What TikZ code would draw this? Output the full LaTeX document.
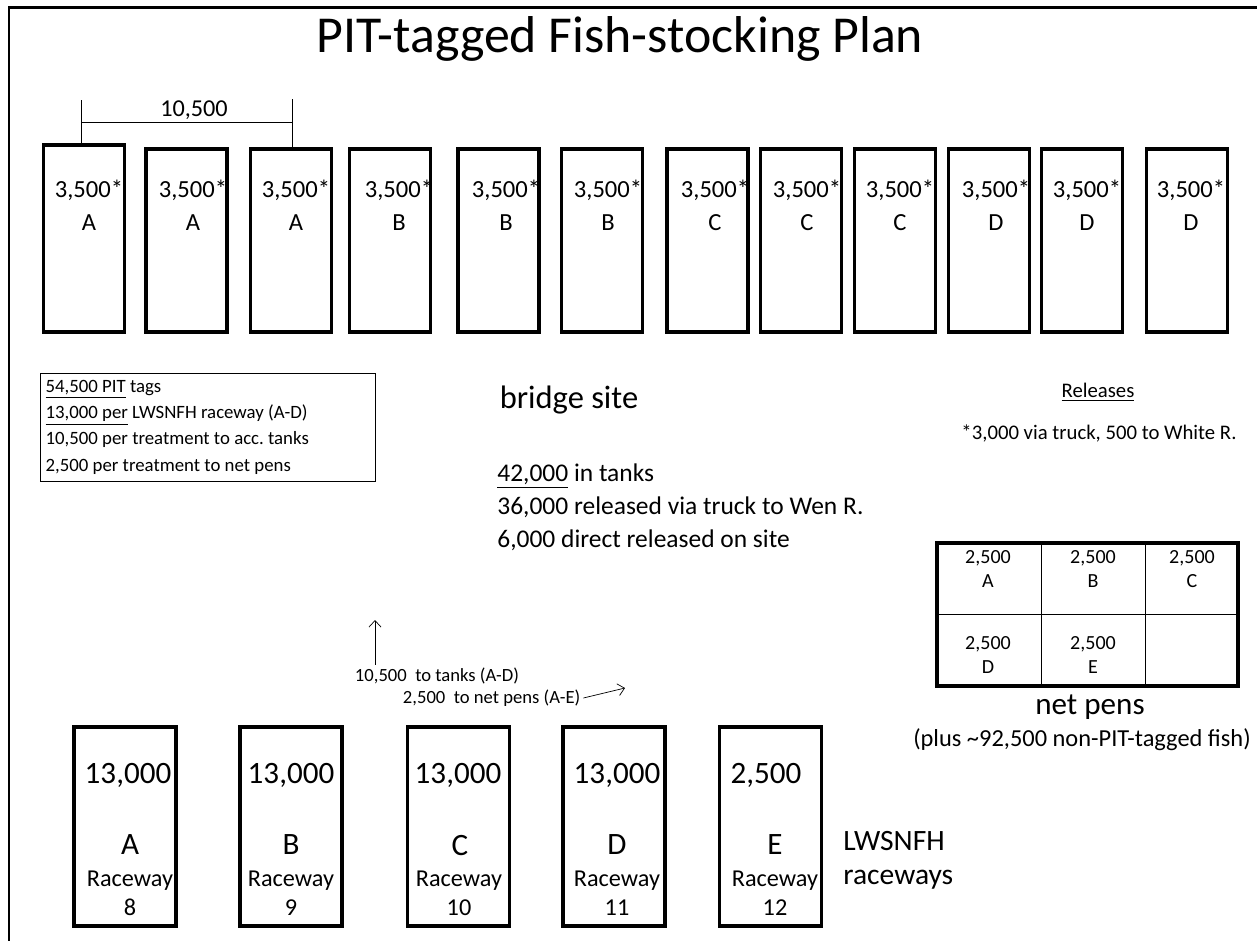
\documentclass[tikz,border=0pt]{standalone}
\usepackage{fontspec}
\setmainfont{Carlito}
\usetikzlibrary{arrows.meta,positioning,calc}
\tikzset{
  tight/.style={execute at begin node={\spaceskip 0pt\relax\xspaceskip 0pt\relax}},
  tank/.style={draw, rectangle, line width=2.2pt, minimum width=1.62cm, minimum height=3.66cm},
  rway/.style={draw, rectangle, line width=2.2pt, minimum width=2.04cm, minimum height=3.98cm},
  pbox/.style={draw, rectangle, line width=2pt, minimum width=6.02cm, minimum height=2.86cm},
  ttxt/.style={align=center, inner sep=0pt, font=\fontsize{14}{18.7}\selectfont},
  rnum/.style={inner sep=0pt, font=\fontsize{17.7}{21}\selectfont},
  rlbl/.style={align=center, inner sep=0pt, font=\fontsize{13.8}{16.4}\selectfont},
  ptxt/.style={align=center, inner sep=0pt, font=\fontsize{11.4}{13.6}\selectfont},
  note/.style={align=left, inner sep=0pt, font=\fontsize{11.8}{14}\selectfont},
  ftxt/.style={inner sep=1.5pt, font=\fontsize{10.6}{12.5}\selectfont},
  lgd/.style={draw, thin, align=left, tight, text width=6.5cm, inner xsep=3pt, inner ysep=4pt, font=\fontsize{10.7}{14.9}\selectfont},
  arr/.style={-{Straight Barb[length=1.3mm, width=2.4mm]}, thin},
}

\begin{document}
\begin{tikzpicture}[x=0.02cm, y=-0.02cm]
\useasboundingbox (0,0) rectangle (1257,941);
\draw[line width=1.7pt] (1257,7) -- (9,7) -- (9,941);

\node[font=\fontsize{29.5}{34}\selectfont] (plan) at (620,39) {PIT-tagged Fish-stocking Plan};

% acclimation tanks at the bridge site
\node[tank, minimum height=3.74cm] (tankA1) at (84,238.5) {};
\node[tank] (tankA2) at (186.5,240.5) {};
\node[tank] (tankA3) at (291,240.5) {};
\node[tank] (tankB1) at (390,240.5) {};
\node[tank] (tankB2) at (498.5,240.5) {};
\node[tank] (tankB3) at (602,240.5) {};
\node[tank] (tankC1) at (707.5,240.5) {};
\node[tank] (tankC2) at (801,240.5) {};
\node[tank] (tankC3) at (895,240.5) {};
\node[tank] (tankD1) at (989,240.5) {};
\node[tank] (tankD2) at (1082,240.5) {};
\node[tank] (tankD3) at (1187,240.5) {};

\node[ttxt] (txtA1) at (89,205.5) {3,500*\\A};
\node[ttxt] (txtA2) at (193,205.5) {3,500*\\A};
\node[ttxt] (txtA3) at (296,205.5) {3,500*\\A};
\node[ttxt] (txtB1) at (399,205.5) {3,500*\\B};
\node[ttxt] (txtB2) at (506,205.5) {3,500*\\B};
\node[ttxt] (txtB3) at (608,205.5) {3,500*\\B};
\node[ttxt] (txtC1) at (715,205.5) {3,500*\\C};
\node[ttxt] (txtC2) at (807,205.5) {3,500*\\C};
\node[ttxt] (txtC3) at (900,205.5) {3,500*\\C};
\node[ttxt] (txtD1) at (996,205.5) {3,500*\\D};
\node[ttxt] (txtD2) at (1087,205.5) {3,500*\\D};
\node[ttxt] (txtD3) at (1191,205.5) {3,500*\\D};

% treatment span
\coordinate (dimL) at (81,100);
\coordinate (dimR) at (292,99);
\coordinate (dimH) at (0,122);
\draw[thin] (dimL) -- (dimL |- tankA1.north);
\draw[thin] (dimR) -- (dimR |- tankA3.north);
\draw[thin] (dimL |- dimH) -- (dimR |- dimH);
\node[inner sep=0pt, font=\fontsize{13.8}{16}\selectfont] (dimVal) at (194,110) {10,500};

\node[font=\fontsize{18.5}{22}\selectfont] (bridge) at (569,400) {bridge site};

\node[lgd, anchor=north west] (tagBox) at (40,373)
  {\underline{54,500 PIT} tags\\\underline{13,000 per} LWSNFH raceway (A-D)\\10,500 per treatment to acc.\ tanks\\2,500 per treatment to net pens};

\node[align=left, tight, inner sep=0pt, font=\fontsize{14.5}{18.7}\selectfont, anchor=west] (relTxt) at (497,507)
  {\underline{42,000} in tanks\\36,000 released via truck to Wen R.\\6,000 direct released on site};

\node[note] (relHead) at (1098,392) {\underline{Releases}};
\node[note] (relFoot) at (1099,433) {*3,000 via truck, 500 to White R.};

% net pens
\draw[thin] (1041,543) -- (1041,686);
\draw[thin] (1145,543) -- (1145,686);
\draw[thin] (937,614) -- (1238,614);
\node[pbox] (pens) at (1087.5,614.5) {};
\node[ptxt] (penA) at (988,569) {2,500\\A};
\node[ptxt] (penB) at (1093,569) {2,500\\B};
\node[ptxt] (penC) at (1192,569) {2,500\\C};
\node[ptxt] (penD) at (988,655) {2,500\\D};
\node[ptxt] (penE) at (1093,655) {2,500\\E};
\node[font=\fontsize{17.7}{21}\selectfont, inner sep=0pt] (pensLbl) at (1090,707) {net pens};
\node[font=\fontsize{13.9}{16}\selectfont, inner sep=0pt] (pensNote) at (1082,740) {(plus \textasciitilde92,500 non-PIT-tagged fish)};

% transfers
\node[ftxt, anchor=west] (toTanks) at (352,676) {10,500\ \ to tanks (A-D)};
\node[ftxt, anchor=west] (toPens) at (400,698) {2,500\ \ to net pens (A-E)};
\coordinate (upTip) at (375,620);
\coordinate (penTip) at (625,688);
\draw[arr] (upTip |- toTanks.north) -- (upTip);
\draw[arr] (toPens.east) -- (penTip);

% LWSNFH raceways
\node[rway] (rwA) at (125,826.5) {};
\node[rway] (rwB) at (291,826.5) {};
\node[rway] (rwC) at (458.5,826.5) {};
\node[rway] (rwD) at (614,826.5) {};
\node[rway] (rwE) at (770.5,826.5) {};

\node[rnum] (numA) at (128,775) {13,000};
\node[rnum] (numB) at (291,775) {13,000};
\node[rnum] (numC) at (458,775) {13,000};
\node[rnum] (numD) at (617,775) {13,000};
\node[rnum] (numE) at (766,775) {2,500};

\node[rnum] (letA) at (130,845) {A};
\node[rnum] (letB) at (291,845) {B};
\node[rnum] (letC) at (460,845) {C};
\node[rnum] (letD) at (617,845) {D};
\node[rnum] (letE) at (775,845) {E};

\node[rlbl] (lblA) at (130,893.5) {Raceway\\8};
\node[rlbl] (lblB) at (291,893.5) {Raceway\\9};
\node[rlbl] (lblC) at (459,893.5) {Raceway\\10};
\node[rlbl] (lblD) at (617,893.5) {Raceway\\11};
\node[rlbl] (lblE) at (775,893.5) {Raceway\\12};

\node[align=left, inner sep=0pt, font=\fontsize{16.8}{19.3}\selectfont, anchor=west] (lwsLbl) at (843,860) {LWSNFH\\raceways};

\end{tikzpicture}
\end{document}
